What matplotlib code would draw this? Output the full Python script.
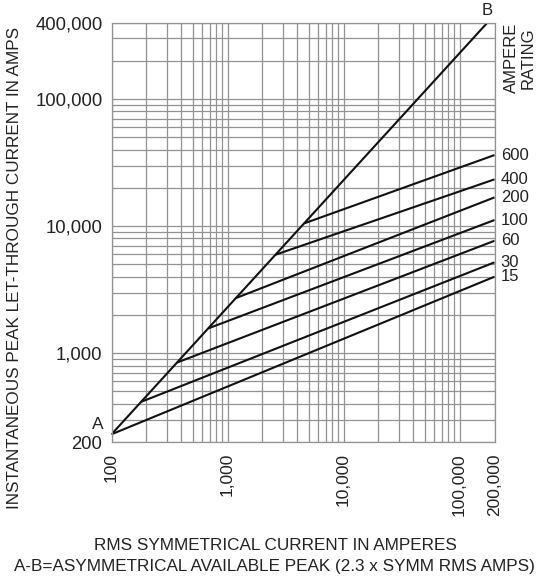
import matplotlib
matplotlib.use("Agg")
import matplotlib.pyplot as plt
from matplotlib.ticker import FixedLocator, NullFormatter, LogLocator

plt.rcParams['font.family'] = ['Liberation Sans', 'DejaVu Sans']

# ---- data ----
ratings = ["15", "30", "60", "100", "200", "400", "600"]
knee_x = [100, 180, 367, 681, 1180, 2590, 4565]
knee_y = [230, 414, 844, 1566, 2714, 5957, 10500]
end_x = 200000
end_y = [4000, 5190, 7670, 11170, 16840, 23340, 36270]

ab_x = [100, 173913]
ab_y = [230, 400000]

x_ticks = [100, 1000, 10000, 100000, 200000]
x_tick_labels = ["100", "1,000", "10,000", "100,000", "200,000"]
y_ticks = [200, 1000, 10000, 100000, 400000]
y_tick_labels = ["200", "1,000", "10,000", "100,000", "400,000"]

W, H = 536, 576
fig = plt.figure(figsize=(W / 100, H / 100), dpi=100)
ax = fig.add_axes([111.5 / W, 1 - 442 / H, 383 / W, (442 - 22.6) / H])
ax.set_xscale('log')
ax.set_yscale('log')
ax.set_xlim(100, 200000)
ax.set_ylim(200, 400000)

grid_color = '#929292'
ax.xaxis.set_minor_locator(LogLocator(base=10, subs=range(2, 10)))
ax.yaxis.set_minor_locator(LogLocator(base=10, subs=range(2, 10)))
ax.grid(True, which='both', color=grid_color, linewidth=0.9)
ax.set_axisbelow(True)
for s in ax.spines.values():
    s.set_color(grid_color)
    s.set_linewidth(0.9)

ax.xaxis.set_major_locator(FixedLocator(x_ticks))
ax.set_xticklabels(x_tick_labels, rotation=90, fontsize=12.5, color='#222222')
ax.yaxis.set_major_locator(FixedLocator(y_ticks))
ax.set_yticklabels(y_tick_labels, fontsize=13.3, color='#222222')
ax.xaxis.set_minor_formatter(NullFormatter())
ax.yaxis.set_minor_formatter(NullFormatter())
ax.tick_params(which='both', length=0)
ax.tick_params(axis='x', pad=8)
ax.tick_params(axis='y', pad=6.5)

# A-B line
ax.plot(ab_x, ab_y, color='#111111', linewidth=1.5, solid_capstyle='butt')
# rating lines
for lab, kx, ky, ey in zip(ratings, knee_x, knee_y, end_y):
    ax.plot([kx, end_x], [ky, ey], color='#111111', linewidth=1.5,
            clip_on=False, solid_capstyle='butt')
    ax.annotate(lab, xy=(end_x, ey), xytext=(4.5, 0), textcoords='offset points',
                ha='left', va='center', fontsize=12, color='#222222',
                annotation_clip=False)

ax.annotate("A", xy=(100, 230), xytext=(-10, 7), textcoords='offset points',
            ha='center', va='center', fontsize=12.5, color='#222222',
            annotation_clip=False)
ax.annotate("B", xy=(ab_x[1], ab_y[1]), xytext=(0, 9), textcoords='offset points',
            ha='center', va='center', fontsize=12, color='#222222',
            annotation_clip=False)

fig.text(519.5 / W, 1 - 58 / H, "AMPERE\nRATING", rotation=90, ha='center',
         va='center', multialignment='center', fontsize=12, color='#222222',
         linespacing=1.12)

fig.text(15 / W, 1 - 268 / H, "INSTANTANEOUS PEAK LET-THROUGH CURRENT IN AMPS",
         rotation=90, ha='center', va='center', fontsize=12.3, color='#222222')
fig.text(275 / W, 1 - 546 / H, "RMS SYMMETRICAL CURRENT IN AMPERES",
         ha='center', va='center', fontsize=12.3, color='#222222')
fig.text(274 / W, 1 - 566 / H, "A-B=ASYMMETRICAL AVAILABLE PEAK (2.3 x SYMM RMS AMPS)",
         ha='center', va='center', fontsize=12.3, color='#222222')

fig.savefig("out.png", dpi=100)
